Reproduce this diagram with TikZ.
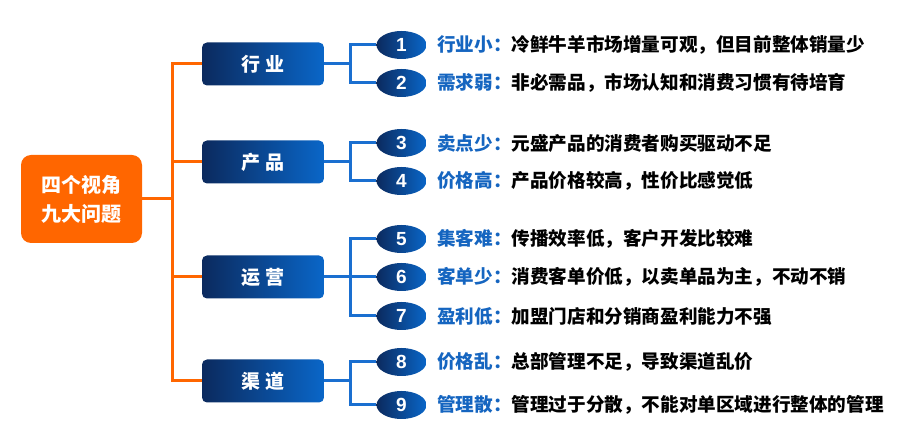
\documentclass[tikz,border=0pt]{standalone}
\usepackage{fontspec}
\setmainfont{Liberation Sans}
\newfontfamily\cjk{Noto Sans CJK SC}
\usetikzlibrary{shapes.geometric}
\definecolor{orng}{HTML}{FF6600}
\definecolor{navy}{HTML}{0B2A5E}
\definecolor{blu}{HTML}{0A66C8}
\definecolor{lnblue}{HTML}{1A6FD0}
\definecolor{lblue}{HTML}{1565C0}
\tikzset{
  mainbox/.style={rounded corners=10pt, fill=orng, text=white, align=center,
    font=\cjk\bfseries\fontsize{20}{29}\selectfont, minimum width=121pt, minimum height=88pt, inner sep=0},
  catbox/.style={rounded corners=5pt, left color=navy, right color=blu, text=white,
    minimum width=122pt, minimum height=43pt, inner sep=0, font=\cjk\bfseries\fontsize{19}{20}\selectfont},
  numbox/.style={ellipse, left color=navy, right color=blu, minimum width=50pt, minimum height=28pt,
    inner sep=0, text=white, font=\bfseries\fontsize{19}{20}\selectfont},
  desc/.style={anchor=west, inner sep=0, font=\cjk\bfseries\fontsize{18.6}{20}\selectfont},
  oline/.style={draw=orng, line width=3pt},
  bline/.style={draw=lnblue, line width=3pt},
}
\newcommand{\lab}[1]{{\color{lblue}#1：}}
\begin{document}
\begin{tikzpicture}[x=1pt,y=-1pt]
\useasboundingbox (0,0) rectangle (911,427);
\coordinate (tx) at (172,0);
\coordinate (bx) at (350,0);
% main
\node[mainbox] (m) at (81.5,199) {四个视角\\九大问题};
% categories
\node[catbox] (c1) at (263,64) {行\hspace{5pt}业};
\node[catbox] (c2) at (263,162) {产\hspace{5pt}品};
\node[catbox] (c3) at (263,277) {运\hspace{5pt}营};
\node[catbox] (c4) at (263,381) {渠\hspace{5pt}道};
% orange trunk
\draw[oline] (c1.west) -- (c1.west -| tx) -- (c4.west -| tx) -- (c4.west);
\draw[oline] (c2.west) -- (c2.west -| tx);
\draw[oline] (c3.west) -- (c3.west -| tx);
\draw[oline] (m.east) -- (m.east -| tx);
% numbers
\node[numbox] (n1) at (401.5,45) {1};
\node[numbox] (n2) at (401.5,83) {2};
\node[numbox] (n3) at (401.5,143) {3};
\node[numbox] (n4) at (401.5,181) {4};
\node[numbox] (n5) at (401.5,239) {5};
\node[numbox] (n6) at (401.5,277) {6};
\node[numbox] (n7) at (401.5,316) {7};
\node[numbox] (n8) at (401.5,362) {8};
\node[numbox] (n9) at (401.5,405) {9};
% blue connectors
\draw[bline] (c1.east) -- (c1.east -| bx);
\draw[bline] (n1.west) -- (n1.west -| bx) -- (n2.west -| bx) -- (n2.west);
\draw[bline] (c2.east) -- (c2.east -| bx);
\draw[bline] (n3.west) -- (n3.west -| bx) -- (n4.west -| bx) -- (n4.west);
\draw[bline] (c3.east) -- (n6.west);
\draw[bline] (n5.west) -- (n5.west -| bx) -- (n7.west -| bx) -- (n7.west);
\draw[bline] (c4.east) -- (c4.east -| bx);
\draw[bline] (n8.west) -- (n8.west -| bx) -- (n9.west -| bx) -- (n9.west);
% descriptions
\node[desc] (d1) at (437,45) {\lab{行业小}冷鲜牛羊市场增量可观，但目前整体销量少};
\node[desc] (d2) at (437,83) {\lab{需求弱}非必需品，市场认知和消费习惯有待培育};
\node[desc] (d3) at (437,143) {\lab{卖点少}元盛产品的消费者购买驱动不足};
\node[desc] (d4) at (437,181) {\lab{价格高}产品价格较高，性价比感觉低};
\node[desc] (d5) at (437,239) {\lab{集客难}传播效率低，客户开发比较难};
\node[desc] (d6) at (437,277) {\lab{客单少}消费客单价低，以卖单品为主，不动不销};
\node[desc] (d7) at (437,316) {\lab{盈利低}加盟门店和分销商盈利能力不强};
\node[desc] (d8) at (437,362) {\lab{价格乱}总部管理不足，导致渠道乱价};
\node[desc] (d9) at (437,405) {\lab{管理散}管理过于分散，不能对单区域进行整体的管理};
\end{tikzpicture}
\end{document}
